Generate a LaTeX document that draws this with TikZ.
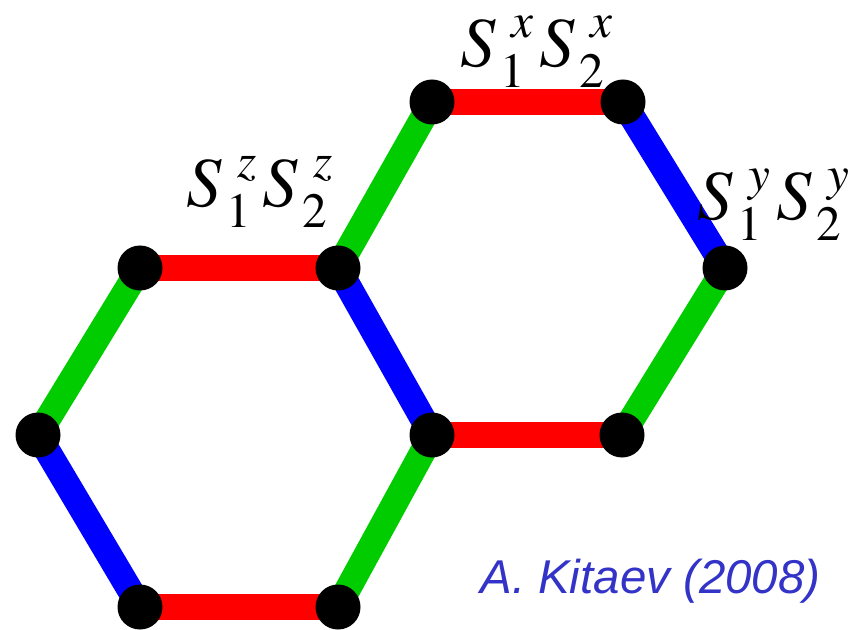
\documentclass[tikz,border=0pt]{standalone}
\usepackage{fontspec}
\newfontfamily\spinfont{texgyretermes}[Extension=.otf,UprightFont=*-regular,ItalicFont=*-italic]
\newfontfamily\creditfont{Liberation Sans}
\usepackage{tikz}
\usetikzlibrary{backgrounds}
\definecolor{kxBond}{HTML}{FF0000}
\definecolor{kyBond}{HTML}{0000FF}
\definecolor{kzBond}{HTML}{00CC00}
\definecolor{kCredit}{HTML}{3333C8}
\tikzset{
    site/.style={circle,fill=black,draw=none,minimum size=0.9cm,inner sep=0pt},
    xbond/.style={line width=0.52cm,kxBond},
    ybond/.style={line width=0.52cm,kyBond},
    zbond/.style={line width=0.52cm,kzBond},
    spinlabel/.style={font=\spinfont\fontsize{40}{42}\selectfont,inner sep=0pt,anchor=base west}
}
\newcommand{\idxfont}{\fontsize{28}{30}\selectfont}
\newcommand{\spinop}[2]{{\itshape S}\hspace{0.1cm}\rlap{\raisebox{-0.42cm}{\idxfont #1}}\hspace{0.22cm}\raisebox{0.58cm}{\idxfont\itshape #2}}
\newcommand{\spinpair}[1]{\spinop{1}{#1}\hspace{0.12cm}\spinop{2}{#1}}

\begin{document}
\begin{tikzpicture}
  \useasboundingbox (0,0) rectangle (17.18,12.58);

  % Lattice sites
  \node[site] (a) at (8.64,10.54) {};
  \node[site] (b) at (12.46,10.54) {};
  \node[site] (c) at (2.80,7.22) {};
  \node[site] (d) at (6.76,7.22) {};
  \node[site] (e) at (14.50,7.22) {};
  \node[site] (f) at (0.76,3.88) {};
  \node[site] (g) at (8.64,3.88) {};
  \node[site] (h) at (12.44,3.88) {};
  \node[site] (i) at (2.80,0.44) {};
  \node[site] (j) at (6.76,0.44) {};

  % Bonds
  \begin{scope}[on background layer]
    \draw[xbond] (a.center) -- (b.center);
    \draw[xbond] (c.center) -- (d.center);
    \draw[xbond] (g.center) -- (h.center);
    \draw[xbond] (i.center) -- (j.center);
    \draw[ybond] (b.center) -- (e.center);
    \draw[ybond] (d.center) -- (g.center);
    \draw[ybond] (f.center) -- (i.center);
    \draw[zbond] (a.center) -- (d.center);
    \draw[zbond] (c.center) -- (f.center);
    \draw[zbond] (e.center) -- (h.center);
    \draw[zbond] (g.center) -- (j.center);
  \end{scope}

  % Coupling labels
  \node[spinlabel] (zlab) at (3.72,8.44) {\spinpair{z}};
  \node[spinlabel] (xlab) at (9.20,11.24) {\spinpair{x}};
  \node[spinlabel] (ylab) at (13.94,8.18) {\spinpair{y}};

  % Credit
  \node[font=\creditfont\itshape\fontsize{27}{29}\selectfont,text=kCredit,inner sep=0pt,anchor=base west] (credit) at (9.60,0.72) {A. Kitaev (2008)};
\end{tikzpicture}
\end{document}
